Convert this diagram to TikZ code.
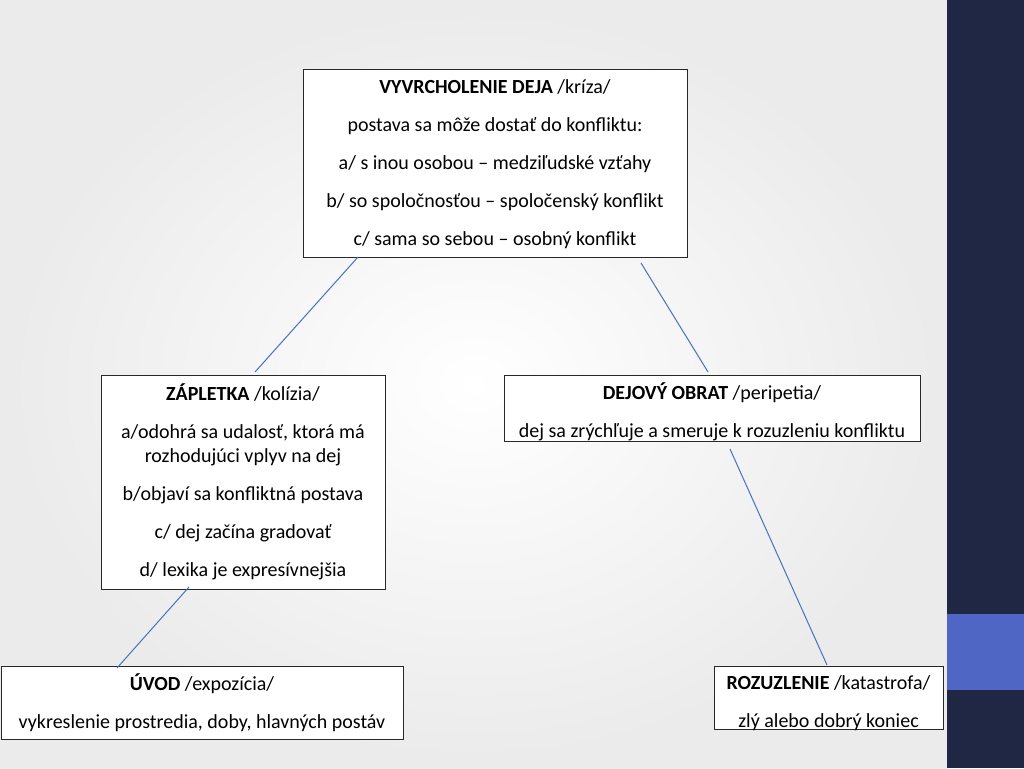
\documentclass[tikz,border=0pt]{standalone}
\usepackage{fontspec}
\setmainfont{Carlito}
\definecolor{navy}{RGB}{32,39,68}
\definecolor{bandblue}{RGB}{79,102,196}
\definecolor{linkblue}{RGB}{68,114,196}
\definecolor{boxline}{RGB}{40,40,40}
\newcommand{\topst}{\rule{0pt}{15pt}}
\newcommand{\botst}{\rule[-5pt]{0pt}{5pt}}
\begin{document}
\begin{tikzpicture}[x=1pt,y=-1pt,
  box/.style={draw=boxline,fill=white,line width=0.9pt,inner sep=0pt,outer sep=0pt},
  txt/.style={align=center,inner sep=0pt,
    font=\fontsize{20}{24}\selectfont},
  link/.style={draw=linkblue,line width=1pt}]
\useasboundingbox (0,0) rectangle (1024,768);
\shade[inner color=white,outer color=black!8] (0,0) rectangle (948,768);
\fill[navy] (947,0) rectangle (1024,768);
\fill[bandblue] (947,614) rectangle (1024,690);

% boxes
\node[box,minimum width=384,minimum height=188] (top) at (495,163) {};
\node[box,minimum width=284,minimum height=214] (zap) at (243,482) {};
\node[box,minimum width=416,minimum height=66] (obr) at (712,408) {};
\node[box,minimum width=402,minimum height=73] (uvod) at (202,702.5) {};
\node[box,minimum width=229,minimum height=63] (roz) at (828.5,697.5) {};

% texts
\node[txt] (toptxt) at (495,164) {\topst\textbf{VYVRCHOLENIE DEJA} /kríza/\\[14pt]
postava sa môže dostať do konfliktu:\\[14pt]
a/ s inou osobou – medziľudské vzťahy\\[14pt]
b/ so spoločnosťou – spoločenský konflikt\\[14pt]
c/ sama so sebou – osobný konflikt\botst};
\node[txt] (zaptxt) at (243,482.5) {\topst\textbf{ZÁPLETKA} /kolízia/\\[14pt]
a/odohrá sa udalosť, ktorá má\\
rozhodujúci vplyv na dej\\[14pt]
b/objaví sa konfliktná postava\\[14pt]
c/ dej začína gradovať\\[14pt]
d/ lexika je expresívnejšia\botst};
\node[txt] (obrtxt) at (712,413) {\topst\textbf{DEJOVÝ OBRAT} /peripetia/\\[14pt]
dej sa zrýchľuje a smeruje k rozuzleniu konfliktu\botst};
\node[txt] (uvodtxt) at (202,703.5) {\topst\textbf{ÚVOD} /expozícia/\\[14pt]
vykreslenie prostredia, doby, hlavných postáv\botst};
\node[txt] (roztxt) at (828.5,703.5) {\topst\textbf{ROZUZLENIE} /katastrofa/\\[14pt]
zlý alebo dobrý koniec\botst};

% connector ends
\coordinate (a1) at (358,257);
\coordinate (a2) at (255,372);
\coordinate (b1) at (641,263);
\coordinate (b2) at (708,372);
\coordinate (c1) at (189,587);
\coordinate (c2) at (117,668);
\coordinate (d1) at (730,449);
\coordinate (d2) at (827,665);
\draw[link] (a1) -- (a2);
\draw[link] (b1) -- (b2);
\draw[link] (c1) -- (c2);
\draw[link] (d1) -- (d2);
\end{tikzpicture}
\end{document}
